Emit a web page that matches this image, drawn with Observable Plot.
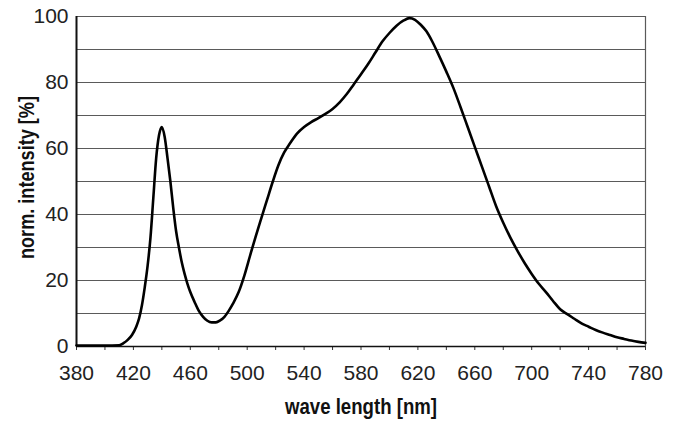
<!DOCTYPE html>
<html>
<head>
<meta charset="utf-8">
<script src="https://cdn.jsdelivr.net/npm/d3@7"></script>
<script src="https://cdn.jsdelivr.net/npm/@observablehq/plot@0.6"></script>
<style>
  html, body { margin: 0; padding: 0; background: #fff; }
  #chart svg { display: block; }
</style>
</head>
<body>
<div id="chart"></div>
<script>
const wavelength = [380,390,400,410,413,416,419,422,424,426,428,430,432,434,436,438,440,442,444,446,448,450,452,454,456,458,460,463,466,469,472,475,478,481,484,487,490,494,498,502,506,510,514,518,522,526,530,535,540,545,550,555,560,565,570,575,580,585,590,595,600,605,610,614,618,622,626,630,635,640,645,650,655,660,665,670,675,680,685,690,695,700,705,710,715,720,725,730,735,740,745,750,755,760,765,770,775,780];
const intensity = [0.3,0.3,0.3,0.4,1,2,3.5,6,8.5,12.5,18,24.5,33,45,57,64,66.5,63.5,57,50,42,35,30,25.5,22,19,16.5,13.5,10.8,9,7.8,7.3,7.3,7.9,9,10.8,13,16.5,21.5,27.5,33.4,39,44.5,50,55,58.8,61.5,64.5,66.5,68,69.2,70.5,72,74,76.5,79.5,82.5,85.6,89,92.4,95,97.2,98.8,99.5,99,97.5,95.5,92.5,88,83.3,78.3,72.5,66.5,60.5,54.5,48.5,42.5,37.5,33,29,25.3,22,19,16.5,13.8,11.3,9.8,8.4,7,6,5,4.2,3.5,2.8,2.3,1.8,1.4,1.1];
const xTicks = [380,400,420,440,460,480,500,520,540,560,580,600,620,640,660,680,700,720,740,760,780];
const xLabels = [380,420,460,500,540,580,620,660,700,740,780];
const yLabels = [0,20,40,60,80,100];
const yGrid = [10,20,30,40,50,60,70,80,90,100];
const xTitle = "wave length [nm]";
const yTitle = "norm. intensity [%]";

const data = wavelength.map((w, i) => ({w, v: intensity[i]}));
const tickFont = "'Liberation Sans', Arial, sans-serif";
const titleFont = "'Liberation Sans', Arial, sans-serif";

const chart = Plot.plot({
  width: 680,
  height: 421,
  marginLeft: 76,
  marginRight: 35,
  marginTop: 16,
  marginBottom: 75,
  style: {fontFamily: tickFont, background: "#fff", color: "#222"},
  x: {domain: [380, 780]},
  y: {domain: [0, 100]},
  marks: [
    Plot.ruleY(yGrid, {stroke: "#5a5a5a", strokeWidth: 1.2}),
    Plot.ruleX([780], {stroke: "#5a5a5a", strokeWidth: 1.2}),
    Plot.axisX({ticks: xTicks, tickSize: 4, tickPadding: 15, stroke: "#333",
      tickFormat: d => xLabels.includes(d) ? String(d) : "", fontSize: 21, label: null}),
    Plot.axisY({ticks: yLabels, tickSize: 0, tickPadding: 8, fontSize: 21, label: null}),
    Plot.ruleY([0], {stroke: "#111", strokeWidth: 1.5}),
    Plot.ruleX([380], {stroke: "#111", strokeWidth: 2}),
    Plot.line(data, {x: "w", y: "v", stroke: "#000", strokeWidth: 2.6, curve: "monotone-x"}),
    Plot.text([xTitle], {text: d => d, frameAnchor: "bottom", textAnchor: "middle", lineAnchor: "middle", dy: 60, fontSize: 22, fontWeight: "bold", fontFamily: titleFont, fill: "#111"}),
    Plot.text([yTitle], {text: d => d, frameAnchor: "left", textAnchor: "middle", lineAnchor: "middle", rotate: -90, dx: -50, dy: -4, fontSize: 22, fontWeight: "bold", fontFamily: titleFont, fill: "#111"})
  ]
});
// condense the bold titles to the narrow width of the original face
chart.querySelectorAll("text").forEach(t => {
  if (t.textContent === xTitle) { t.setAttribute("textLength", 152); t.setAttribute("lengthAdjust", "spacingAndGlyphs"); }
  if (t.textContent === yTitle) { t.setAttribute("textLength", 163); t.setAttribute("lengthAdjust", "spacingAndGlyphs"); }
});
document.getElementById("chart").appendChild(chart);
</script>
</body>
</html>
